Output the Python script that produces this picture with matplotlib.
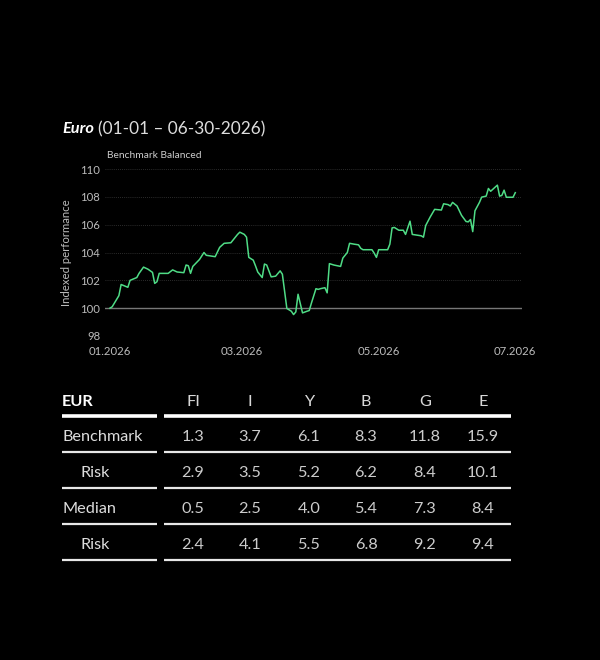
import numpy as np
import pandas as pd
import matplotlib.pyplot as plt
from matplotlib.ticker import FixedLocator

plt.rcParams['font.family'] = ['Lato', 'DejaVu Sans']

# performance series, day offset from 01-01-2026 and indexed value
days = [0, 1, 4, 5, 8, 9, 12, 13, 15, 17, 19, 20, 21, 22, 26, 28, 30, 33, 34, 35,
        36, 37, 40, 42, 43, 47, 49, 51, 54, 55, 57, 58, 60, 61, 62, 64, 65, 66, 68, 69,
        70, 72, 74, 76, 77, 79, 81, 82, 83, 84, 86, 88, 89, 90, 92, 93, 94, 96, 97, 98,
        100, 103, 104, 106, 107, 109, 111, 112, 113, 117, 118, 119, 120, 124, 125, 126, 127, 129, 131, 132,
        134, 135, 139, 140, 141, 143, 145, 148, 149, 151, 152, 153, 155, 157, 159, 160, 161, 162, 163, 165,
        166, 168, 169, 170, 173, 174, 175, 176, 177, 180, 181]
values = [100.0, 100.1, 100.9, 101.7, 101.5, 102.0, 102.2, 102.5, 102.95, 102.8, 102.57, 101.78, 101.9, 102.5, 102.5, 102.75, 102.6, 102.55, 103.1, 103.05,
          102.5, 103.0, 103.5, 104.0, 103.8, 103.7, 104.37, 104.66, 104.7, 104.9, 105.3, 105.46, 105.3, 105.1, 103.65, 103.45, 103.04, 102.6, 102.2, 103.17,
          103.1, 102.25, 102.3, 102.68, 102.44, 99.98, 99.78, 99.54, 99.73, 101.0, 99.66, 99.78, 99.83, 100.38, 101.4, 101.35, 101.4, 101.47, 101.1, 103.2,
          103.1, 103.0, 103.6, 104.0, 104.66, 104.6, 104.55, 104.3, 104.2, 104.2, 103.95, 103.65, 104.2, 104.2, 104.6, 105.77, 105.8, 105.6, 105.6, 105.3,
          106.25, 105.3, 105.2, 105.1, 105.94, 106.55, 107.1, 107.05, 107.5, 107.44, 107.34, 107.6, 107.34, 106.67, 106.23, 106.2, 106.37, 105.5, 107.0, 107.6,
          107.98, 108.05, 108.6, 108.4, 108.84, 108.05, 108.1, 108.48, 107.97, 107.97, 108.3]

start = pd.Timestamp('2026-01-01')
dates = start + pd.to_timedelta(days, unit='D')
x_ticks = ['2026-01-01', '2026-03-01', '2026-05-01', '2026-07-01']
x_tick_labels = ['01.2026', '03.2026', '05.2026', '07.2026']
y_ticks = [98, 100, 102, 104, 106, 108, 110]

# table
col_labels = ['FI', 'I', 'Y', 'B', 'G', 'E']
row_labels = ['Benchmark', 'Risk', 'Median', 'Risk']
table_vals = [[1.3, 3.7, 6.1, 8.3, 11.8, 15.9],
              [2.9, 3.5, 5.2, 6.2, 8.4, 10.1],
              [0.5, 2.5, 4.0, 5.4, 7.3, 8.4],
              [2.4, 4.1, 5.5, 6.8, 9.2, 9.4]]

W, H = 600, 660
fig = plt.figure(figsize=(W / 100, H / 100), dpi=100, facecolor='black')

def px(x0, y0, x1, y1):
    # pixel box -> figure fraction rect
    return [x0 / W, 1 - y1 / H, (x1 - x0) / W, (y1 - y0) / H]

# overlay for text and table lines, pixel coords
ov = fig.add_axes([0, 0, 1, 1], zorder=0)
ov.set_xlim(0, W)
ov.set_ylim(H, 0)
ov.axis('off')

t1 = ov.text(62, 129, 'Euro', color='white', fontsize=11.8, fontweight='bold', style='italic', va='center')
fig.canvas.draw()
x_end = t1.get_window_extent().x1
ov.text(x_end + 4.5, 129, '(01-01 – 06-30-2026)', color='#dddddd', fontsize=12.4, va='center')
ov.text(107, 156, 'Benchmark Balanced', color='#cccccc', fontsize=7.4, va='center')

ax = fig.add_axes(px(105, 169, 522, 336), zorder=1)
ax.set_facecolor('none')
t0 = pd.Timestamp('2026-01-01')
ax.set_xlim(t0 - pd.Timedelta(days=2.2), t0 + pd.Timedelta(days=184))
ax.set_ylim(98, 110)
for s in ax.spines.values():
    s.set_visible(False)
ax.yaxis.set_major_locator(FixedLocator(y_ticks))
ax.set_xticks(pd.to_datetime(x_ticks))
ax.set_xticklabels(x_tick_labels)
ax.tick_params(colors='#bbbbbb', labelsize=8.2, length=0)
ax.tick_params(axis='x', pad=7)
ax.tick_params(axis='y', pad=3.5)
ax.grid(axis='y', color='#3a3a3a', linestyle=(0, (1, 1.5)), linewidth=0.6)
ax.axhline(100, color='#777777', linewidth=1)
ax.plot(dates, values, color='#4fdc86', linewidth=1.1)
ax.set_ylabel('Indexed performance', color='#bbbbbb', fontsize=8.2, labelpad=6)

# table
col_x = [193, 250, 309, 366, 425, 483]
row_y = [437, 473, 509, 545]
head_y = 402
fs = 11.7
ov.text(62, head_y, 'EUR', color='white', fontsize=fs, fontweight='bold', va='center')
for cx, lab in zip(col_x, col_labels):
    ov.text(cx, head_y, lab, color='#d8d8d8', fontsize=fs, ha='center', va='center')
ov.plot([62, 157], [416, 416], color='white', lw=2.6, solid_capstyle='butt')
ov.plot([164, 511], [416, 416], color='white', lw=2.6, solid_capstyle='butt')
for i, (ry, lab) in enumerate(zip(row_y, row_labels)):
    lx = 62 if i % 2 == 0 else 80
    ov.text(lx, ry, lab, color='#dddddd', fontsize=fs, va='center')
    for cx, v in zip(col_x, table_vals[i]):
        ov.text(cx, ry, f'{v:.1f}', color='#cccccc', fontsize=fs, ha='center', va='center')
    ly = ry + 15
    ov.plot([62, 157], [ly, ly], color='#e8e8e8', lw=1.6, solid_capstyle='butt')
    ov.plot([164, 511], [ly, ly], color='#e8e8e8', lw=1.6, solid_capstyle='butt')

fig.savefig('out.png', dpi=100, facecolor='black')
